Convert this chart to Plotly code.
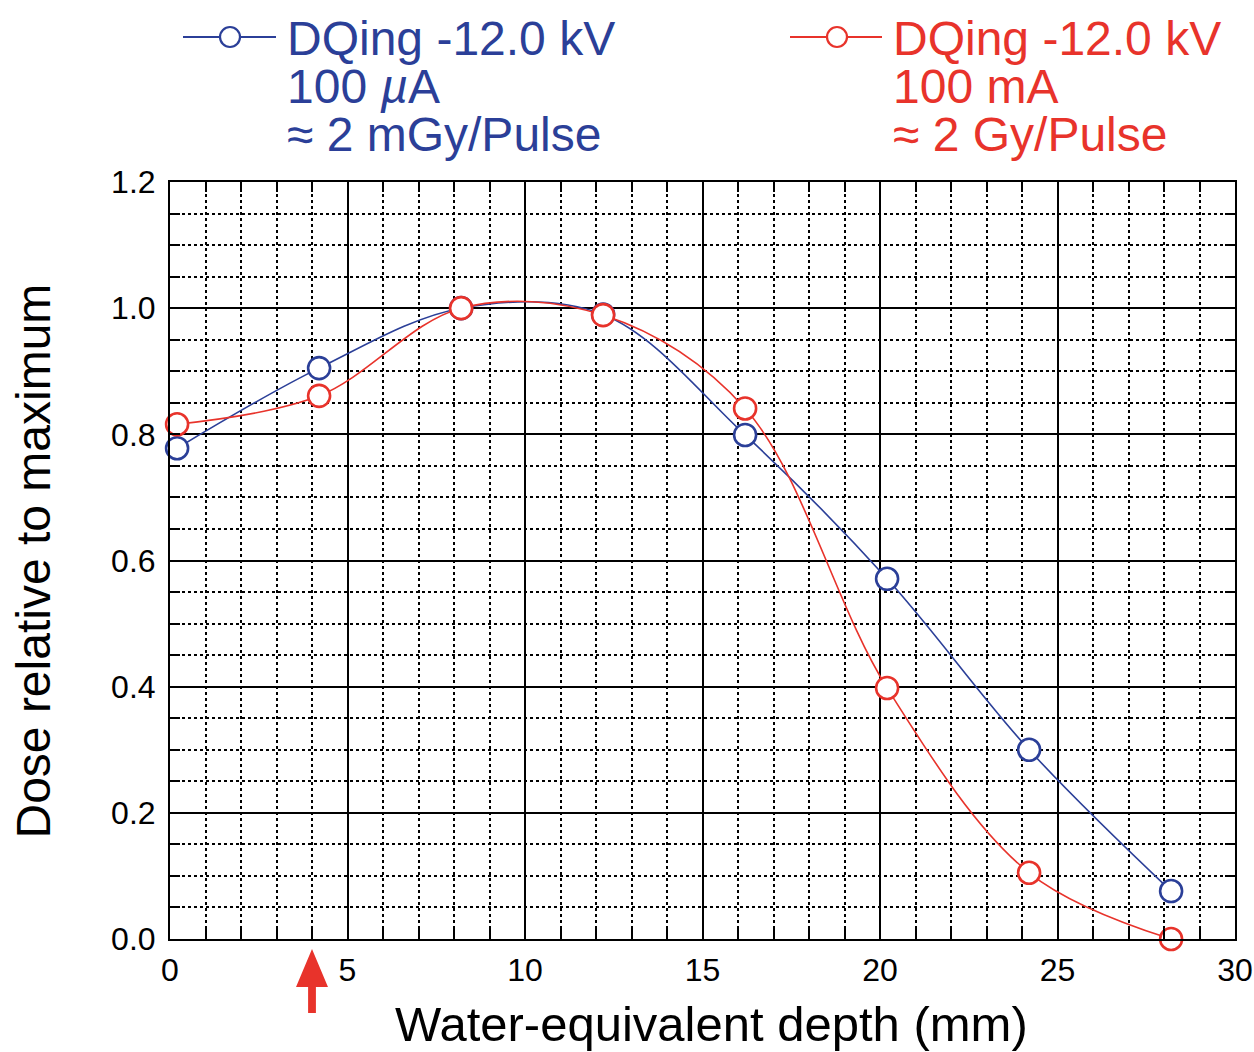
import plotly.graph_objects as go

# ---- data ----
depth_mm = [0.2, 4.2, 8.2, 12.2, 16.2, 20.2, 24.2, 28.2]
dose_100uA = [0.778, 0.905, 1.0, 0.99, 0.799, 0.571, 0.300, 0.076]
dose_100mA = [0.816, 0.861, 1.0, 0.989, 0.841, 0.398, 0.105, 0.0]

x_ticks = [0, 5, 10, 15, 20, 25, 30]
y_ticks = [0.0, 0.2, 0.4, 0.6, 0.8, 1.0, 1.2]

legend_blue = ["DQing -12.0 kV", "100 <i>µ</i>A", "≈ 2 mGy/Pulse"]
legend_red = ["DQing -12.0 kV", "100 mA", "≈ 2 Gy/Pulse"]
arrow_depth = 4.0

BLUE = "#2b3f98"
RED = "#e8332b"
FONT = "Liberation Sans, Arial, Helvetica, sans-serif"

W, H = 1254, 1052
L, R, T, B = 170, 19, 182, 113
PW, PH = W - L - R, H - T - B


def px_x(p):
    return (p - L) / PW


def px_y(p):
    return (H - B - p) / PH


fig = go.Figure()

for y, col in [(dose_100uA, BLUE), (dose_100mA, RED)]:
    fig.add_trace(go.Scatter(
        x=depth_mm, y=y, mode="lines+markers",
        line=dict(color=col, width=1.6, shape="spline", smoothing=1.0),
        marker=dict(symbol="circle", size=22, color="white",
                    line=dict(color=col, width=2.6)),
        showlegend=False, cliponaxis=False,
    ))

shapes = []
annotations = []

# custom legend
for lines, col, lx0, lx1, mx, tx in [
    (legend_blue, BLUE, 183, 276, 230, 285),
    (legend_red, RED, 790, 882, 837, 891),
]:
    ly = px_y(37)
    shapes.append(dict(type="line", xref="paper", yref="paper",
                       x0=px_x(lx0), x1=px_x(lx1), y0=ly, y1=ly,
                       line=dict(color=col, width=2)))
    shapes.append(dict(type="circle", xref="paper", yref="paper",
                       xsizemode="pixel", ysizemode="pixel",
                       xanchor=px_x(mx), yanchor=ly,
                       x0=-10, x1=10, y0=-10, y1=10,
                       fillcolor="white", line=dict(color=col, width=2.2)))
    for i, t in enumerate(lines):
        annotations.append(dict(
            text=t, xref="paper", yref="paper", x=px_x(tx), y=px_y(38 + 48 * i),
            xanchor="left", yanchor="middle", showarrow=False,
            font=dict(family=FONT, size=48, color=col)))

# axis titles
annotations.append(dict(
    text="Water-equivalent depth (mm)", xref="paper", yref="paper",
    x=px_x(711), y=px_y(1024), xanchor="center", yanchor="middle",
    showarrow=False, font=dict(family=FONT, size=49, color="black")))
annotations.append(dict(
    text="Dose relative to maximum", xref="paper", yref="paper",
    x=px_x(33), y=0.5, xanchor="center", yanchor="middle", textangle=-90,
    showarrow=False, font=dict(family=FONT, size=48, color="black")))

# red arrow below x axis
tip, head_base, tail = px_y(949), px_y(987), px_y(1013)
hw, sw = 0.45, 0.11
a = arrow_depth
path = (f"M {a},{tip} L {a+hw},{head_base} L {a+sw},{head_base} L {a+sw},{tail} "
        f"L {a-sw},{tail} L {a-sw},{head_base} L {a-hw},{head_base} Z")
shapes.append(dict(type="path", xref="x", yref="paper", path=path,
                   fillcolor=RED, line=dict(color=RED, width=0)))

axis_common = dict(
    showline=True, linecolor="black", linewidth=2, mirror="ticks",
    showgrid=True, gridcolor="black", gridwidth=1.6,
    ticks="inside", ticklen=10, tickwidth=2, tickcolor="black",
    tickfont=dict(family=FONT, size=32, color="black"),
    zeroline=False, automargin=False,
)

fig.update_layout(
    width=W, height=H,
    margin=dict(l=L, r=R, t=T, b=B, autoexpand=False),
    paper_bgcolor="white", plot_bgcolor="white",
    xaxis=dict(range=[0, 30], tickvals=x_ticks, ticklabelstandoff=2, **axis_common,
               minor=dict(dtick=1, showgrid=True, gridcolor="black", griddash="dot",
                          gridwidth=1.6, ticks="inside", ticklen=10, tickwidth=2,
                          tickcolor="black")),
    yaxis=dict(range=[0, 1.2], tickvals=y_ticks, tickformat=".1f", ticklabelstandoff=6,
               **axis_common,
               minor=dict(dtick=0.05, showgrid=True, gridcolor="black", griddash="dot",
                          gridwidth=1.6, ticks="inside", ticklen=10, tickwidth=2,
                          tickcolor="black")),
    shapes=shapes, annotations=annotations,
)

fig.write_html("out.html")
